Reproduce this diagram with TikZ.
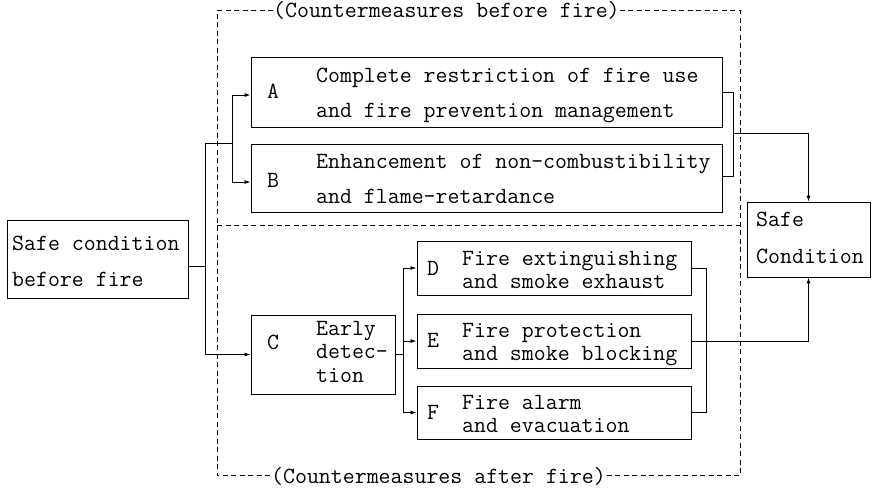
\documentclass[tikz,border=0pt]{standalone}
\usepackage{fontspec}
\usetikzlibrary{arrows.meta}
\tikzset{
  box/.style={draw, line width=0.9pt, inner sep=0pt, rectangle},
  txt/.style={anchor=base west, inner sep=0pt, font=\ttfamily\fontsize{23.2}{27}\selectfont},
  wire/.style={line width=0.9pt},
  arr/.style={line width=0.9pt, -{Latex[length=6pt,width=4pt]}},
  frame/.style={line width=0.9pt, dash pattern=on 5pt off 3.5pt},
}
\begin{document}
\begin{tikzpicture}[x=1pt,y=-1pt]
\useasboundingbox (0,0) rectangle (872,488);

% boxes
\node[box, minimum width=181pt, minimum height=78pt] (L) at (97.5,259) {};
\node[box, minimum width=471pt, minimum height=70pt] (A) at (486.5,92) {};
\node[box, minimum width=471pt, minimum height=68pt] (B) at (486.5,178) {};
\node[box, minimum width=144pt, minimum height=79pt] (C) at (323,354.5) {};
\node[box, minimum width=274pt, minimum height=54pt] (D) at (554,268) {};
\node[box, minimum width=274pt, minimum height=54pt] (E) at (554,341) {};
\node[box, minimum width=274pt, minimum height=53pt] (F) at (554,412.5) {};
\node[box, minimum width=123pt, minimum height=75pt] (S) at (808.5,239.5) {};

% box texts
\node[txt] (Lt1) at (12,250) {Safe condition};
\node[txt] (Lt2) at (12,286) {before fire};

\node[txt] (Al) at (267,98) {A};
\node[txt] (At1) at (316,82) {Complete restriction of fire use};
\node[txt] (At2) at (316,117) {and fire prevention management};

\node[txt] (Bl) at (267,187) {B};
\node[txt] (Bt1) at (316,168) {Enhancement of non-combustibility};
\node[txt] (Bt2) at (316,203) {and flame-retardance};

\node[txt] (Cl) at (267,349) {C};
\node[txt] (Ct1) at (316,335) {Early};
\node[txt] (Ct2) at (316,358) {detec-};
\node[txt] (Ct3) at (316,382) {tion};

\node[txt] (Dl) at (427,275) {D};
\node[txt] (Dt1) at (462,265) {Fire extinguishing};
\node[txt] (Dt2) at (462,288) {and smoke exhaust};

\node[txt] (El) at (427,347) {E};
\node[txt] (Et1) at (462,337) {Fire protection};
\node[txt] (Et2) at (462,360) {and smoke blocking};

\node[txt] (Fl) at (427,419) {F};
\node[txt] (Ft1) at (462,409) {Fire alarm};
\node[txt] (Ft2) at (462,432) {and evacuation};

\node[txt] (St1) at (756,226) {Safe};
\node[txt] (St2) at (756,263) {Condition};

% dashed frame with its two captions
\node[txt] (toplbl) at (273,17.5) {(Countermeasures before fire)};
\node[txt] (botlbl) at (271,483) {(Countermeasures after fire)};
\coordinate (f1) at (217,11);
\coordinate (f2) at (740,11);
\coordinate (m1) at (217,225);
\coordinate (m2) at (740,225);
\draw[frame] (toplbl.west) -- (toplbl.west -| f1) -- (f1 |- botlbl.west) -- (botlbl.west);
\draw[frame] (toplbl.east) -- (toplbl.east -| f2) -- (f2 |- botlbl.east) -- (botlbl.east);
\draw[frame] (m1) -- (m2);

% left branching
\coordinate (j0) at (205,266);
\coordinate (jt) at (205,143);
\coordinate (jb) at (205,354.5);
\coordinate (jab) at (232,143);
\draw[wire] ([yshift=-7pt]L.east) -- (j0);
\draw[wire] (jt) -- (jb);
\draw[wire] (jt) -- (jab);
\draw[arr] (jab) |- ([yshift=-3pt]A.west);
\draw[arr] (jab) |- ([yshift=-4pt]B.west);
\draw[arr] (jb) -- (C.west);

\coordinate (jc) at (403,354.5);
\draw[wire] (C.east) -- (jc);
\draw[arr] (jc) |- (D.west);
\draw[arr] (jc) |- (E.west);
\draw[arr] (jc) |- (F.west);

% right merging
\coordinate (rab) at (733,133);
\draw[wire] (A.east) -- (A.east -| rab) -- ([yshift=2pt]B.east -| rab) -- ([yshift=2pt]B.east);
\draw[arr] (rab) -| (S.north);

\coordinate (rdf) at (706,0);
\draw[wire] (D.east) -- (D.east -| rdf) -- (F.east -| rdf) -- (F.east);
\draw[arr] (E.east) -| (S.south);
\end{tikzpicture}
\end{document}
